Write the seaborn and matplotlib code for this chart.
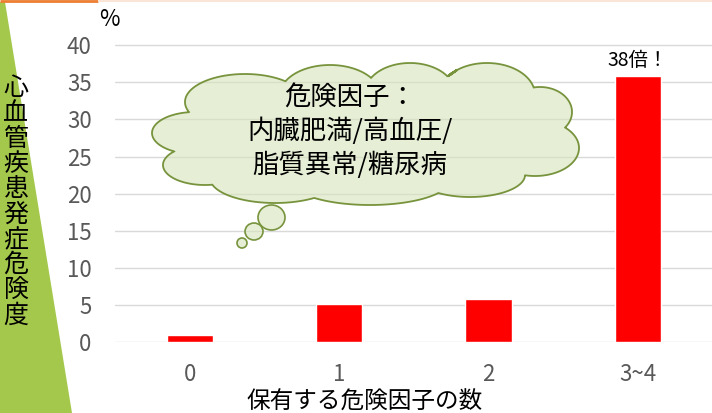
import numpy as np
import matplotlib
matplotlib.use('Agg')
import matplotlib.pyplot as plt
from matplotlib.patches import Polygon, Ellipse
from matplotlib.colors import to_rgba
import seaborn as sns

# data
categories = ['0', '1', '2', '3~4']
risk_values = [1.0, 5.1, 5.8, 35.8]
y_ticks = [0, 5, 10, 15, 20, 25, 30, 35, 40]
ylabel_text = '心血管疾患発症危険度'
xlabel_text = '保有する危険因子の数'
cloud_lines = ['危険因子：', '内臓肥満/高血圧/', '脂質異常/糖尿病']
peak_note = '38倍！'

sns.set_style('white')
plt.rcParams['font.family'] = ['Noto Sans CJK JP', 'DejaVu Sans']

W, H = 712, 413
fig = plt.figure(figsize=(W / 100, H / 100), dpi=100)

# main axes placed in pixel terms
x_left, x_right = 115.3, 712.6
y_zero, y_top = 342.3, 41.4
ax = fig.add_axes([x_left / W, (H - y_zero) / H,
                   (x_right - x_left) / W, (y_zero - y_top) / H])

sns.barplot(x=categories, y=risk_values, color='#FF0000', saturation=1,
            width=0.31, ax=ax, zorder=3)
ax.set_xlim(-0.5, 3.5)
ax.set_ylim(0, 40.5)
ax.set_yticks(y_ticks)
ax.grid(axis='y', color='#D9D9D9', lw=1.0)
ax.set_axisbelow(True)
for s in ax.spines.values():
    s.set_visible(False)
ax.tick_params(axis='y', length=0, pad=17, labelsize=16, labelcolor='#595959')
ax.tick_params(axis='x', length=0, pad=15, labelsize=16, labelcolor='#595959')
ax.set_xlabel('')
ax.set_ylabel('')

ax.annotate(peak_note, xy=(3, risk_values[3]), xytext=(0, 11.5),
            textcoords='offset points', ha='center', va='center',
            fontsize=14, color='black')

# overlay in pixel coordinates for decorations
ov = fig.add_axes([0, 0, 1, 1], zorder=5)
ov.set_xlim(0, W)
ov.set_ylim(H, 0)
ov.axis('off')

# green wedge on the left
ov.add_patch(Polygon([(0, 2), (5, 2), (72, H), (0, H)], closed=True,
                     facecolor='#A4C84C', edgecolor='none'))
# top accent line
ov.plot([0, 98], [1, 1], color='#ED7D31', lw=2.0, solid_capstyle='butt')
ov.plot([98, W], [1, 1], color='#FBE5D6', lw=1.5, solid_capstyle='butt')

# vertical y label, one char per row
for i, ch in enumerate(ylabel_text):
    ov.text(16, 88 + i * 25.3, ch, ha='center', va='center',
            fontsize=18, color='black')

ov.text(109, 20, '%', ha='center', va='center', fontsize=16, color='black')
ov.text(365, 402, xlabel_text, ha='center', va='center', fontsize=17,
        color='black')

# thought cloud: union of lobes, keep outer boundary
lobes = [(195, 133, 43, 21), (205, 165, 42, 20), (245, 102, 60, 28),
         (330, 95, 50, 30), (410, 93, 45, 30), (487, 95, 48, 32),
         (540, 112, 32, 25), (535, 148, 44, 28), (470, 175, 55, 22),
         (370, 180, 80, 25), (275, 178, 65, 25), (366, 133, 150, 45)]
pts = []
t = np.linspace(0, 2 * np.pi, 600, endpoint=False)
for k, (cx, cy, rx, ry) in enumerate(lobes):
    px = cx + rx * np.cos(t)
    py = cy + ry * np.sin(t)
    inside = np.zeros_like(px, dtype=bool)
    for j, (cx2, cy2, rx2, ry2) in enumerate(lobes):
        if j == k:
            continue
        inside |= ((px - cx2) / rx2) ** 2 + ((py - cy2) / ry2) ** 2 < 1
    pts.append(np.column_stack([px[~inside], py[~inside]]))
pts = np.vstack(pts)
ccx, ccy = 366, 133
ang = np.arctan2((pts[:, 1] - ccy) / 70, (pts[:, 0] - ccx) / 214)
pts = pts[np.argsort(ang)]

fill = to_rgba('#D7E4BD', 0.62)
edge = '#77933C'
ov.add_patch(Polygon(pts, closed=True, facecolor=fill, edgecolor=edge, lw=1.3))
for cx, cy, rx, ry in [(271.5, 217.5, 13.5, 12.5), (254, 231.5, 9, 8.5),
                       (242, 243, 5, 5)]:
    ov.add_patch(Ellipse((cx, cy), 2 * rx, 2 * ry, facecolor=fill,
                         edgecolor=edge, lw=1.2))

for i, line in enumerate(cloud_lines):
    ov.text(350, 98 + i * 33.5, line, ha='center', va='center',
            fontsize=19, color='black')

fig.savefig('out.png', dpi=100)
